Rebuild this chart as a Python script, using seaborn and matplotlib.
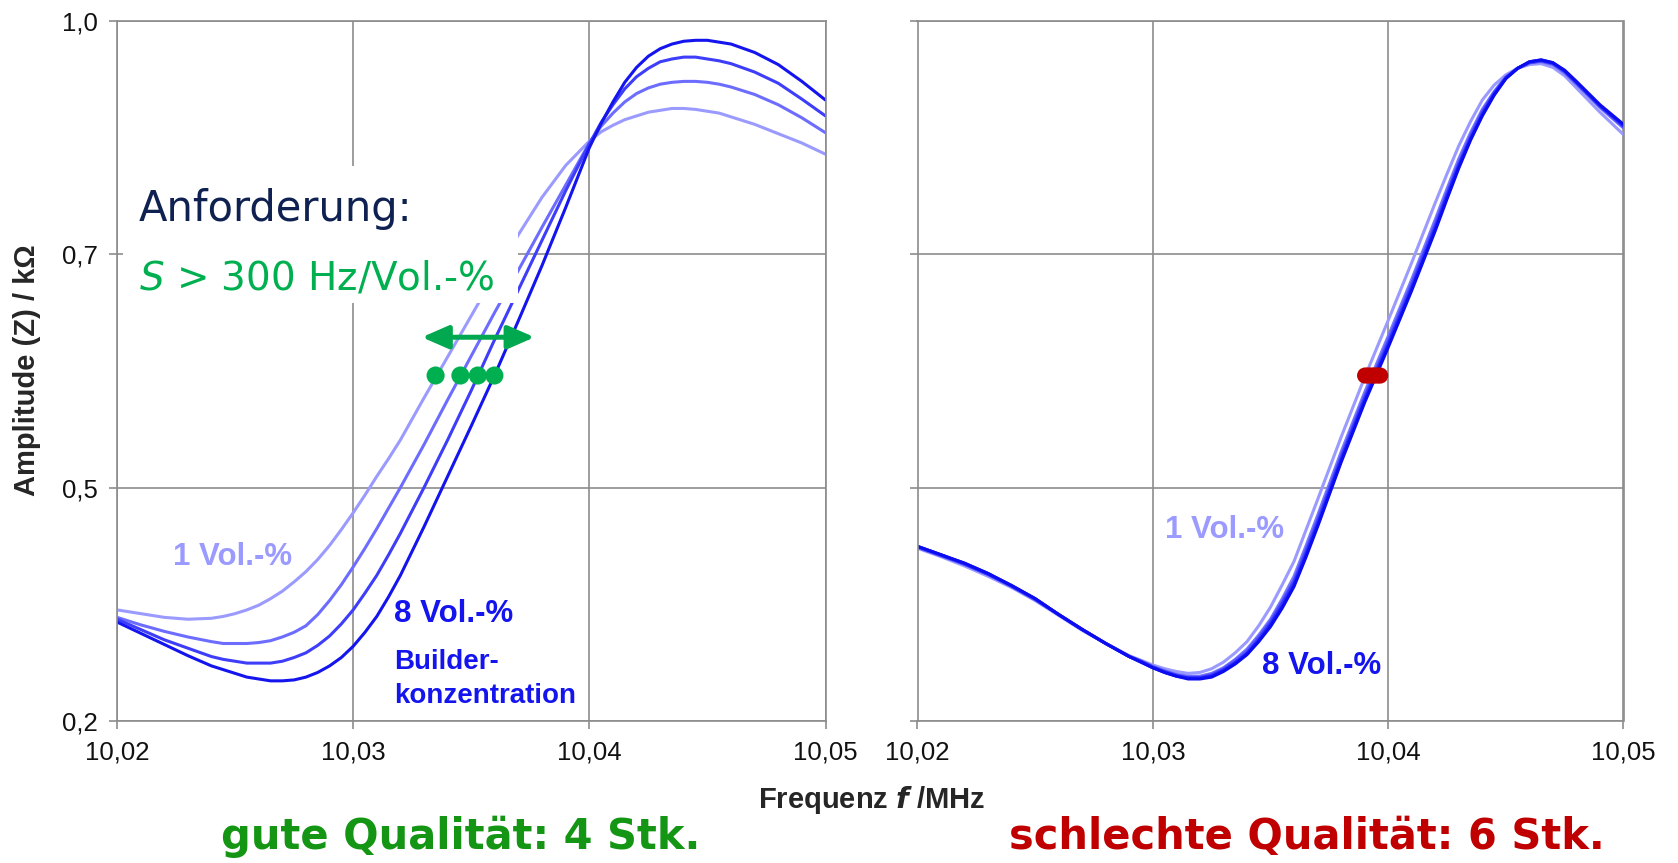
import matplotlib
matplotlib.use("Agg")
import matplotlib.pyplot as plt
from matplotlib.patches import Rectangle
import pandas as pd
import seaborn as sns

# frequency grids (MHz); extra points where the curves bend
freq_good = [10.020, 10.021, 10.022, 10.023, 10.024, 10.0245, 10.025, 10.0255, 10.026,
             10.0265, 10.027, 10.0275, 10.028, 10.0285, 10.029, 10.0295, 10.030, 10.0305,
             10.031, 10.0315, 10.032, 10.033, 10.034, 10.035, 10.036, 10.037, 10.038,
             10.039, 10.040, 10.0405, 10.041, 10.0415, 10.042, 10.0425, 10.043, 10.0435,
             10.044, 10.0445, 10.045, 10.0455, 10.046, 10.047, 10.048, 10.049, 10.050]
freq_bad = [10.020, 10.021, 10.022, 10.023, 10.024, 10.025, 10.026, 10.027, 10.028,
            10.029, 10.0295, 10.030, 10.0305, 10.031, 10.0315, 10.032, 10.0325, 10.033,
            10.0335, 10.034, 10.0345, 10.035, 10.0355, 10.036, 10.0365, 10.037, 10.038,
            10.039, 10.040, 10.041, 10.042, 10.0425, 10.043, 10.0435, 10.044, 10.0445,
            10.045, 10.0455, 10.046, 10.0465, 10.047, 10.0475, 10.048, 10.049, 10.050]

# good sensor: 1 ... 8 Vol.-% builder concentration (light -> dark)
good_1 = [0.319, 0.315, 0.311, 0.309, 0.310, 0.312, 0.315, 0.319, 0.324, 0.331, 0.339,
          0.349, 0.360, 0.373, 0.388, 0.405, 0.423, 0.442, 0.462, 0.481, 0.501, 0.546,
          0.590, 0.634, 0.678, 0.721, 0.761, 0.795, 0.821, 0.831, 0.838, 0.844, 0.848,
          0.852, 0.854, 0.856, 0.856, 0.855, 0.853, 0.851, 0.847, 0.839, 0.829, 0.819,
          0.807]
good_2 = [0.311, 0.303, 0.296, 0.290, 0.285, 0.283, 0.283, 0.283, 0.284, 0.286, 0.290,
          0.295, 0.302, 0.314, 0.329, 0.346, 0.365, 0.385, 0.406, 0.428, 0.450, 0.496,
          0.544, 0.591, 0.638, 0.683, 0.729, 0.774, 0.819, 0.837, 0.851, 0.863, 0.872,
          0.878, 0.882, 0.884, 0.885, 0.885, 0.884, 0.882, 0.879, 0.871, 0.860, 0.846,
          0.830]
good_3 = [0.309, 0.298, 0.287, 0.278, 0.269, 0.266, 0.264, 0.262, 0.262, 0.262, 0.264,
          0.268, 0.273, 0.281, 0.291, 0.304, 0.319, 0.337, 0.356, 0.378, 0.401, 0.450,
          0.501, 0.554, 0.609, 0.662, 0.715, 0.768, 0.818, 0.841, 0.860, 0.877, 0.890,
          0.899, 0.906, 0.909, 0.911, 0.911, 0.909, 0.907, 0.904, 0.895, 0.883, 0.866,
          0.848]
good_4 = [0.306, 0.294, 0.282, 0.270, 0.259, 0.255, 0.251, 0.247, 0.245, 0.243, 0.243,
          0.244, 0.247, 0.252, 0.259, 0.268, 0.280, 0.295, 0.312, 0.333, 0.356, 0.408,
          0.462, 0.516, 0.571, 0.629, 0.688, 0.750, 0.814, 0.840, 0.863, 0.884, 0.900,
          0.912, 0.920, 0.925, 0.928, 0.929, 0.929, 0.927, 0.925, 0.916, 0.903, 0.885,
          0.865]

# bad sensor: six nearly identical curves (light -> dark)
bad_1 = [0.385, 0.376, 0.366, 0.355, 0.343, 0.329, 0.313, 0.297, 0.283, 0.270, 0.265,
         0.260, 0.256, 0.253, 0.251, 0.252, 0.256, 0.263, 0.273, 0.285, 0.302, 0.322,
         0.346, 0.371, 0.404, 0.437, 0.504, 0.568, 0.629, 0.691, 0.755, 0.786, 0.816,
         0.842, 0.865, 0.881, 0.892, 0.899, 0.903, 0.904, 0.900, 0.891, 0.878, 0.852,
         0.828]
bad_2 = [0.386, 0.377, 0.368, 0.357, 0.344, 0.330, 0.314, 0.298, 0.283, 0.269, 0.264,
         0.258, 0.254, 0.250, 0.248, 0.248, 0.251, 0.257, 0.266, 0.277, 0.292, 0.309,
         0.331, 0.355, 0.387, 0.420, 0.488, 0.552, 0.612, 0.673, 0.737, 0.770, 0.802,
         0.830, 0.855, 0.874, 0.890, 0.899, 0.905, 0.906, 0.903, 0.894, 0.882, 0.857,
         0.835]
bad_3 = [0.386, 0.377, 0.368, 0.357, 0.344, 0.330, 0.314, 0.298, 0.283, 0.269, 0.264,
         0.258, 0.253, 0.249, 0.247, 0.247, 0.250, 0.256, 0.265, 0.275, 0.290, 0.307,
         0.328, 0.351, 0.383, 0.416, 0.484, 0.548, 0.608, 0.669, 0.733, 0.766, 0.798,
         0.827, 0.853, 0.873, 0.889, 0.899, 0.905, 0.907, 0.904, 0.895, 0.883, 0.858,
         0.836]
bad_4 = [0.387, 0.378, 0.368, 0.357, 0.345, 0.331, 0.314, 0.298, 0.283, 0.269, 0.264,
         0.258, 0.253, 0.249, 0.246, 0.246, 0.249, 0.255, 0.263, 0.273, 0.288, 0.305,
         0.326, 0.349, 0.380, 0.413, 0.482, 0.546, 0.605, 0.666, 0.730, 0.764, 0.796,
         0.825, 0.851, 0.872, 0.889, 0.899, 0.905, 0.907, 0.904, 0.896, 0.884, 0.859,
         0.837]
bad_5 = [0.387, 0.378, 0.369, 0.358, 0.345, 0.331, 0.314, 0.298, 0.283, 0.269, 0.263,
         0.257, 0.252, 0.248, 0.246, 0.246, 0.248, 0.254, 0.262, 0.272, 0.286, 0.303,
         0.323, 0.346, 0.377, 0.410, 0.479, 0.543, 0.602, 0.663, 0.727, 0.761, 0.794,
         0.823, 0.849, 0.871, 0.888, 0.899, 0.906, 0.908, 0.905, 0.896, 0.884, 0.859,
         0.838]
bad_6 = [0.387, 0.378, 0.369, 0.358, 0.345, 0.331, 0.314, 0.298, 0.283, 0.269, 0.263,
         0.257, 0.252, 0.248, 0.245, 0.245, 0.247, 0.253, 0.261, 0.271, 0.285, 0.301,
         0.321, 0.344, 0.375, 0.408, 0.477, 0.541, 0.600, 0.661, 0.725, 0.759, 0.792,
         0.822, 0.848, 0.870, 0.888, 0.899, 0.906, 0.908, 0.905, 0.897, 0.885, 0.860,
         0.839]

# operating points at the working amplitude
good_dot_x = [10.03349, 10.03454, 10.03528, 10.03598]
good_dot_y = [0.570, 0.570, 0.570, 0.570]
bad_dot_x = [10.03902, 10.03915, 10.03928, 10.03941, 10.03954, 10.03966]
bad_dot_y = [0.570, 0.570, 0.570, 0.570, 0.570, 0.570]

x_ticks = [10.02, 10.03, 10.04, 10.05]
x_tick_labels = ["10,02", "10,03", "10,04", "10,05"]
y_ticks = [0.2, 0.45, 0.7, 0.95]
y_tick_labels = ["0,2", "0,5", "0,7", "1,0"]

good_colors = ["#9a9aff", "#6c6cff", "#3d3dfa", "#1414ee"]
bad_colors = ["#9a9aff", "#7878ff", "#5a5aff", "#3c3cff", "#2020fa", "#0c0cf0"]
grid_color = "#8c8c8c"


def long_frame(freq, series):
    rows = []
    for name, vals in series.items():
        for f, v in zip(freq, vals):
            rows.append({"freq": f, "amp": v, "series": name})
    return pd.DataFrame(rows)


def style_axis(ax, show_ylabels):
    ax.set_xlim(10.02, 10.05)
    ax.set_ylim(0.2, 0.95)
    ax.set_xticks(x_ticks)
    ax.set_xticklabels(x_tick_labels)
    ax.set_yticks(y_ticks)
    ax.set_yticklabels(y_tick_labels if show_ylabels else [])
    ax.grid(True, color=grid_color, lw=1.2)
    ax.set_axisbelow(True)
    for sp in ax.spines.values():
        sp.set_visible(True)
        sp.set_color(grid_color)
        sp.set_linewidth(1.2)
    ax.tick_params(axis="both", direction="out", length=6, width=1.2, color=grid_color,
                   labelsize=18.5, pad=8, labelcolor="#111111", bottom=True, left=True,
                   labelleft=show_ylabels)
    ax.set_xlabel("")
    ax.set_ylabel("")


sns.set_style("white")
plt.rcParams["font.family"] = ["Liberation Sans", "DejaVu Sans"]
plt.rcParams["mathtext.fontset"] = "dejavusans"
plt.rcParams["lines.solid_joinstyle"] = "round"

fig = plt.figure(figsize=(16.78, 8.63), dpi=100)
ax_l = fig.add_axes([117 / 1678, 1 - 721 / 863, 708.5 / 1678, 700.3 / 863])
ax_r = fig.add_axes([917.5 / 1678, 1 - 721 / 863, 706 / 1678, 700.3 / 863])

# left panel: good quality
df_good = long_frame(freq_good, {"g1": good_1, "g2": good_2, "g3": good_3, "g4": good_4})
sns.lineplot(data=df_good, x="freq", y="amp", hue="series", palette=good_colors,
             estimator=None, sort=False, lw=2.2, legend=False, ax=ax_l)
style_axis(ax_l, True)

ax_l.add_patch(Rectangle((10.02025, 0.648), 0.01671, 0.146, facecolor="white",
                         edgecolor="none", zorder=3))
ax_l.text(10.02093, 0.736, "Anforderung:", family="DejaVu Sans", fontsize=30,
          color="#0e2150", va="baseline", zorder=4)
ax_l.text(10.02093, 0.662, r"$\mathit{S}$ > 300 Hz/Vol.-%", family="DejaVu Sans",
          fontsize=28, color="#00b050", va="baseline", zorder=4)
ax_l.annotate("", xy=(10.03768, 0.611), xytext=(10.03291, 0.611),
              arrowprops=dict(arrowstyle="<|-|>,head_length=0.8,head_width=0.35",
                              mutation_scale=20, color="#00a850", lw=3.6,
                              shrinkA=0, shrinkB=0), zorder=5)
sns.scatterplot(x=good_dot_x, y=good_dot_y, color="#00b050", s=170, edgecolor="none",
                zorder=6, ax=ax_l, legend=False)

ax_l.text(10.02239, 0.367, "1 Vol.-%", fontsize=22.5, fontweight="bold",
          color="#9a9aff", va="baseline")
ax_l.text(10.03174, 0.306, "8 Vol.-%", fontsize=22.5, fontweight="bold",
          color="#1414ee", va="baseline")
ax_l.text(10.03174, 0.2555, "Builder-", fontsize=20, fontweight="bold",
          color="#1414ee", va="baseline")
ax_l.text(10.03174, 0.2196, "konzentration", fontsize=20, fontweight="bold",
          color="#1414ee", va="baseline")

# right panel: bad quality
df_bad = long_frame(freq_bad, {"b1": bad_1, "b2": bad_2, "b3": bad_3, "b4": bad_4,
                               "b5": bad_5, "b6": bad_6})
sns.lineplot(data=df_bad, x="freq", y="amp", hue="series", palette=bad_colors,
             estimator=None, sort=False, lw=2.2, legend=False, ax=ax_r)
style_axis(ax_r, False)
sns.scatterplot(x=bad_dot_x, y=bad_dot_y, color="#c00000", s=135, edgecolor="none",
                zorder=6, ax=ax_r, legend=False)
ax_r.text(10.0305, 0.3956, "1 Vol.-%", fontsize=22.5, fontweight="bold",
          color="#9a9aff", va="baseline")
ax_r.text(10.03465, 0.2506, "8 Vol.-%", fontsize=22.5, fontweight="bold",
          color="#1414ee", va="baseline")

# axis titles and captions
fig.text(27 / 1678, 1 - 370 / 863, "Amplitude (Z) / kΩ", rotation=90, fontsize=21,
         fontweight="bold", ha="center", va="center")
fig.text(872 / 1678, 1 - 800 / 863, r"Frequenz $\mathbfit{f}$ /MHz", fontsize=21,
         fontweight="bold", ha="center", va="center")
fig.text(461 / 1678, 1 - 837 / 863, "gute Qualität: 4 Stk.", family="DejaVu Sans",
         fontsize=30, fontweight="bold", color="#149614", ha="center", va="center")
fig.text(1307 / 1678, 1 - 837 / 863, "schlechte Qualität: 6 Stk.", family="DejaVu Sans",
         fontsize=30, fontweight="bold", color="#c00000", ha="center", va="center")

fig.savefig("out.png", dpi=100)
plt.close(fig)
